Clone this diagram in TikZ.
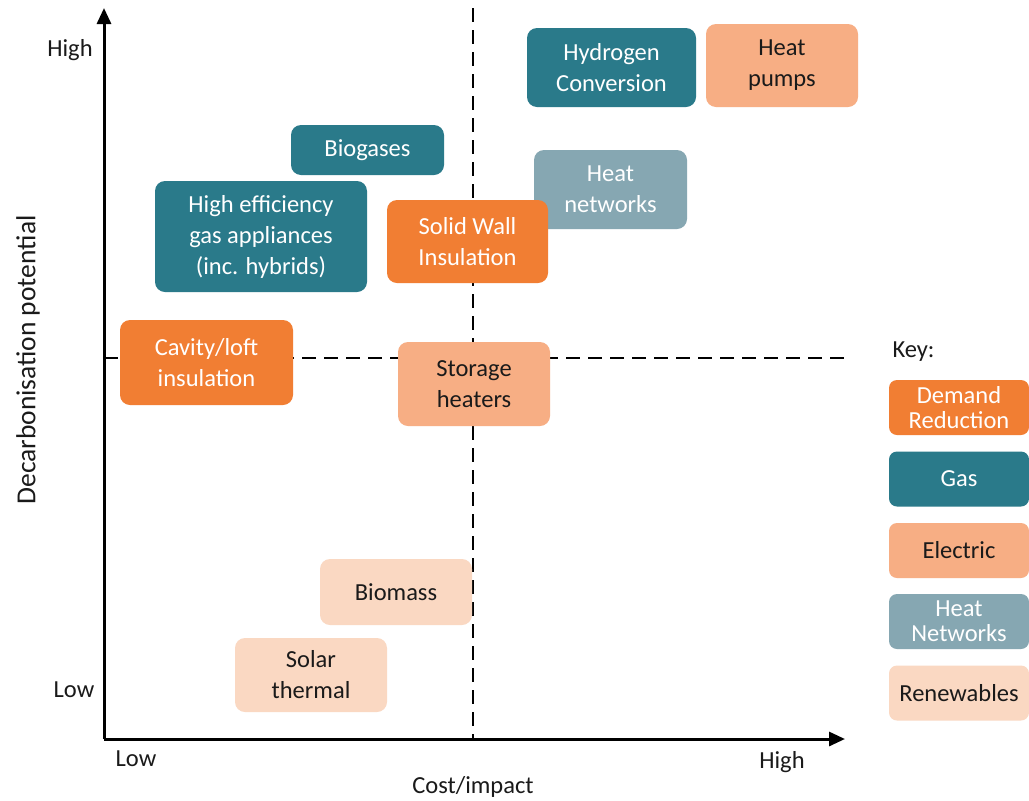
\documentclass[tikz,border=0pt]{standalone}
\usepackage{fontspec}
\setmainfont{Carlito}
\usetikzlibrary{arrows.meta}
\definecolor{cteal}{HTML}{2A7A8A}
\definecolor{corange}{HTML}{F17E33}
\definecolor{celec}{HTML}{F7AE84}
\definecolor{cheatnet}{HTML}{86A7B2}
\definecolor{crenew}{HTML}{FAD8C2}
\definecolor{ctext}{HTML}{1A1A1A}
\begin{document}
\begin{tikzpicture}[x=1pt,y=-1pt,
  box/.style={rounded corners=10pt, minimum width=#1, align=center, inner sep=0pt,
    font=\fontsize{24.5}{31}\selectfont},
  gasbox/.style={box=#1, fill=cteal, text=white},
  dembox/.style={box=#1, fill=corange, text=white},
  elecbox/.style={box=#1, fill=celec, text=ctext},
  netbox/.style={box=#1, fill=cheatnet, text=white},
  renbox/.style={box=#1, fill=crenew, text=ctext},
  keybox/.style={rounded corners=8pt, minimum width=140pt, minimum height=55pt, align=center, inner sep=0pt,
    font=\fontsize{24.5}{25}\selectfont},
  axlabel/.style={font=\fontsize{24.5}{28}\selectfont, text=ctext},
  dashln/.style={line width=1.4pt, dash pattern=on 14pt off 8pt},
  axis/.style={line width=3pt, -{Triangle[length=16pt,width=14pt]}}
]
\useasboundingbox (0,0) rectangle (1029,801);
\fill[white] (0,0) rectangle (1029,801);

% quadrant dashed lines
\coordinate (vtop) at (473,8);
\coordinate (vbot) at (473,739);
\coordinate (hl) at (104,358);
\coordinate (hr) at (846,358);
\draw[dashln] (vtop) -- (vbot);
\draw[dashln] (hl) -- (hr);

% axes
\coordinate (org) at (104,739);
\coordinate (ytip) at (104,8);
\coordinate (xtip) at (845,739);
\draw[axis] (org) -- (ytip);
\draw[axis] (org) -- (xtip);

% axis labels
\node[axlabel] (yhigh) at (70,50) {High};
\node[axlabel] (ylow) at (74,690) {Low};
\node[axlabel] (xlow) at (136,759) {Low};
\node[axlabel] (xhigh) at (782,762) {High};
\node[axlabel] (xtitle) at (473,787) {Cost/impact};
\node[axlabel, font=\fontsize{27.5}{30}\selectfont, rotate=90] (ytitle) at (28,360) {Decarbonisation potential};

% boxes
\node[gasbox=169pt, minimum height=79pt] (hyd) at (611.5,67.5) {Hydrogen\\Conversion};
\node[elecbox=152pt, minimum height=83pt] (hp) at (782,65.5) {Heat\\pumps};
\node[gasbox=153pt, minimum height=50pt] (bio) at (367.5,150) {Biogases};
\node[netbox=153pt, minimum height=79pt] (hn) at (610.5,189.5) {Heat\\networks};
\node[gasbox=212pt, minimum height=111pt] (hega) at (261,236.5) {High efficiency\\gas appliances\\(inc. hybrids)};
\node[dembox=161pt, minimum height=83pt] (swi) at (467.5,241.5) {Solid Wall\\Insulation};
\node[dembox=173pt, minimum height=85pt] (cli) at (206.5,362.5) {Cavity/loft\\insulation};
\node[elecbox=152pt, minimum height=84pt] (sh) at (474,384) {Storage\\heaters};
\node[renbox=152pt, minimum height=66pt] (bm) at (396,592) {Biomass};
\node[renbox=152pt, minimum height=74pt] (st) at (311,675) {Solar\\thermal};

% key
\node[axlabel, anchor=west] (key) at (889,352) {Key:};
\node[keybox, fill=corange, text=white] (kdem) at (959,407.5) {Demand\\Reduction};
\node[keybox, fill=cteal, text=white] (kgas) at (959,479) {Gas};
\node[keybox, fill=celec, text=ctext] (kel) at (959,550.5) {Electric};
\node[keybox, fill=cheatnet, text=white] (knet) at (959,621.5) {Heat\\Networks};
\node[keybox, fill=crenew, text=ctext] (kren) at (959,693) {Renewables};
\end{tikzpicture}
\end{document}
